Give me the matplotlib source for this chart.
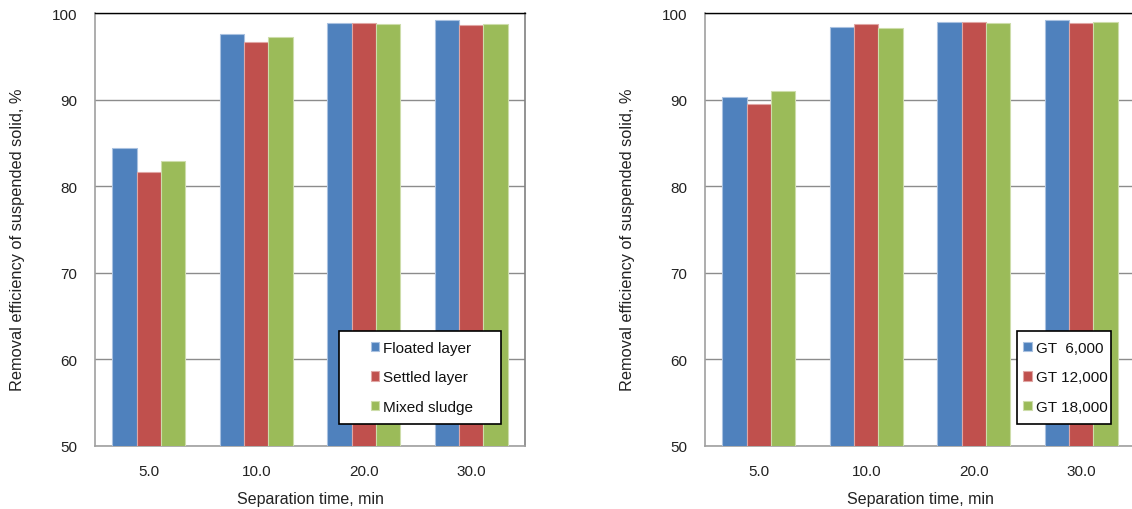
import matplotlib
matplotlib.use("Agg")
import matplotlib.pyplot as plt
from matplotlib.patches import Rectangle
import numpy as np

plt.rcParams['font.family'] = ['Liberation Sans', 'DejaVu Sans']

# Data
times = ["5.0", "10.0", "20.0", "30.0"]

layer_names = ["Floated layer", "Settled layer", "Mixed sludge"]
floated = [84.4, 97.6, 98.8, 99.15]
settled = [81.6, 96.7, 98.8, 98.6]
mixed = [82.95, 97.2, 98.7, 98.7]

gt_names = ["GT  6,000", "GT 12,000", "GT 18,000"]
gt6000 = [90.3, 98.4, 99.0, 99.15]
gt12000 = [89.5, 98.7, 99.0, 98.8]
gt18000 = [91.0, 98.3, 98.8, 99.0]

colors = ["#4F81BD", "#C0504D", "#9BBB59"]
edges = ["#A9C1E0", "#E0A6A4", "#CDDDAA"]

W, H = 1132, 510
fig = plt.figure(figsize=(W / 100, H / 100), dpi=100)


def px_box(x0, x1, y_top, y_bot):
    return [x0 / W, 1 - y_bot / H, (x1 - x0) / W, (y_bot - y_top) / H]


def draw_panel(ax, series, names, legend_box, legend_center):
    x = np.arange(len(times))
    bw = 0.226
    handles = []
    for i, (vals, name) in enumerate(zip(series, names)):
        h = ax.bar(x + (i - 1) * bw, vals, width=bw, color=colors[i],
                   edgecolor=edges[i], linewidth=0.8, label=name, zorder=3)
        handles.append(h)
    ax.set_xlim(-0.5, len(times) - 0.5)
    ax.set_ylim(50, 100)
    ax.set_yticks([50, 60, 70, 80, 90, 100])
    ax.set_xticks(x)
    ax.set_xticklabels(times)
    ax.yaxis.grid(True, color="#8C8C8C", linewidth=1.0, zorder=0)
    ax.set_axisbelow(True)
    ax.tick_params(axis="both", length=0, labelsize=11, colors="#222222")
    ax.tick_params(axis="y", pad=13)
    ax.tick_params(axis="x", pad=13)
    for side in ["left", "bottom", "right"]:
        ax.spines[side].set_color("#A0A0A0")
        ax.spines[side].set_linewidth(1.2)
    ax.spines["right"].set_color("#808080")
    ax.spines["top"].set_color("#000000")
    ax.spines["top"].set_linewidth(1.0)
    ax.set_xlabel("Separation time, min", fontsize=11.5, color="#222222", labelpad=9.5)
    ax.set_ylabel("Removal efficiency of suspended solid, %", fontsize=11.8,
                  color="#222222")
    ax.yaxis.set_label_coords(-0.163, 0.479)

    # Legend frame and entries
    bx0, bx1, by0, by1 = legend_box
    inv = ax.transAxes.inverted()
    (ax0, ay0) = inv.transform(fig.transFigure.transform((bx0 / W, 1 - by1 / H)))
    (ax1, ay1) = inv.transform(fig.transFigure.transform((bx1 / W, 1 - by0 / H)))
    rect = Rectangle((ax0, ay0), ax1 - ax0, ay1 - ay0, transform=ax.transAxes,
                     facecolor="white", edgecolor="black", linewidth=1.2,
                     zorder=6, clip_on=False)
    ax.add_patch(rect)
    cx, cy = legend_center
    c = inv.transform(fig.transFigure.transform((cx / W, 1 - cy / H)))
    leg = ax.legend(handles=handles, loc="center", bbox_to_anchor=(c[0], c[1]),
                    bbox_transform=ax.transAxes, frameon=False, fontsize=11,
                    handlelength=0.55, handleheight=0.55, handletextpad=0.3,
                    labelspacing=1.0, borderpad=0)
    leg.set_zorder(7)
    for t in leg.get_texts():
        t.set_color("#111111")


ax1 = fig.add_axes(px_box(95, 525, 14, 447))
draw_panel(ax1, [floated, settled, mixed], layer_names,
           (339, 501, 332, 425), (422, 378.5))

ax2 = fig.add_axes(px_box(705, 1135, 14, 447))
draw_panel(ax2, [gt6000, gt12000, gt18000], gt_names,
           (1017, 1111, 332, 425), (1065.5, 378.5))

fig.savefig("out.png", dpi=100)
